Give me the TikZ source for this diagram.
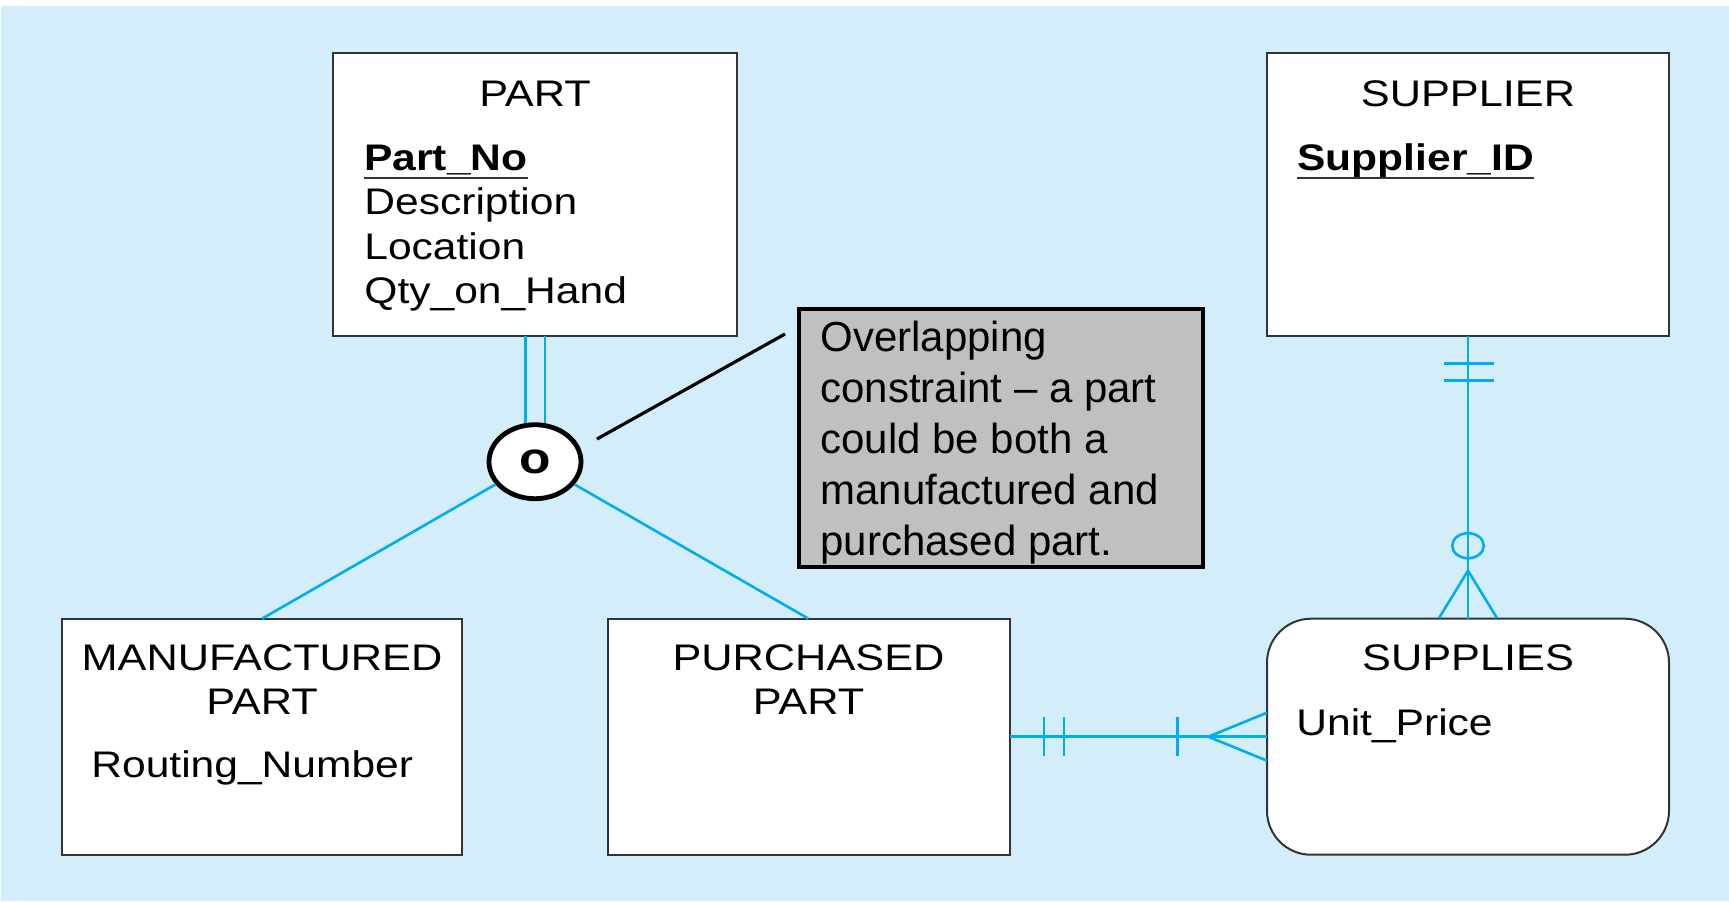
\documentclass[tikz,border=0pt]{standalone}
\usepackage{fontspec}
\setmainfont{Liberation Sans}
\newfontfamily\boxfont[FakeStretch=1.17]{Liberation Sans}
\newfontfamily\attrfont[FakeStretch=1.15]{Liberation Sans}
\usetikzlibrary{shapes.geometric}
\definecolor{bgblue}{RGB}{211,238,250}
\definecolor{linkblue}{RGB}{0,174,239}
\definecolor{edgegray}{RGB}{51,51,51}
\definecolor{notegray}{RGB}{192,192,192}
\tikzset{
  entity/.style={draw=edgegray, line width=1pt, fill=white, inner sep=0pt, outer sep=0pt},
  title/.style={inner sep=0pt, anchor=base, font=\boxfont\fontsize{18.5}{22}\selectfont},
  attr/.style={inner sep=0pt, anchor=base west, font=\attrfont\fontsize{18.5}{22}\selectfont},
  keyattr/.style={attr, font=\attrfont\bfseries\fontsize{18.5}{22}\selectfont},
  link/.style={draw=linkblue, line width=1.3pt},
  pointer/.style={draw=black, line width=1.6pt},
}
\begin{document}
\begin{tikzpicture}[x=0.5pt,y=-0.5pt]
\useasboundingbox (0,0) rectangle (1729,901);
\fill[white] (0,0) rectangle (1729,901);
\fill[bgblue] (1,6) rectangle (1729,901);

% entities
\node[entity, minimum width=202pt, minimum height=141.5pt] (part) at (535,194.5) {};
\node[entity, minimum width=201pt, minimum height=141.5pt] (supplier) at (1468,194.5) {};
\node[entity, minimum width=200pt, minimum height=118pt] (mfg) at (262,736.7) {};
\node[entity, minimum width=201pt, minimum height=118pt] (pur) at (808.5,736.7) {};
\node[entity, rounded corners=22pt, minimum width=201pt, minimum height=118pt] (supplies) at (1468,736.7) {};

% texts
\node[title] (parttitle) at (535,106) {PART};
\node[keyattr] (partno) at (364,170) {Part\_No};
\draw[edgegray, line width=0.8pt] ([yshift=-4pt]partno.base west) -- ([yshift=-4pt]partno.base east);
\node[attr] (desc) at (364,214.5) {Description};
\node[attr] (loc) at (364,259) {Location};
\node[attr] (qty) at (364,303.5) {Qty\_on\_Hand};

\node[title] (suppliertitle) at (1468,106) {SUPPLIER};
\node[keyattr] (supid) at (1297,170) {Supplier\_ID};
\draw[edgegray, line width=0.8pt] ([yshift=-4pt]supid.base west) -- ([yshift=-4pt]supid.base east);

\node[title] (mfgtitle) at (262,670) {MANUFACTURED};
\node[title] (mfgtitle2) at (262,714) {PART};
\node[attr] (routing) at (91,777) {Routing\_Number};

\node[title] (purtitle) at (808.5,670) {PURCHASED};
\node[title] (purtitle2) at (808.5,714) {PART};

\node[title] (suppliestitle) at (1468,670) {SUPPLIES};
\node[attr] (price) at (1296,735) {Unit\_Price};

% overlap circle
\node[ellipse, draw=black, line width=2.4pt, fill=white, minimum width=46pt, minimum height=37pt, inner sep=0pt] (circ) at (535,461.7) {};
\node[inner sep=0pt, font=\boxfont\bfseries\fontsize{22}{22}\selectfont] (olabel) at (535,462) {o};

% PART to circle: double line
\draw[link] ([xshift=-4.9pt]part.south) -- ([xshift=-4.9pt,yshift=-0.5pt]circ.north);
\draw[link] ([xshift=4.9pt]part.south) -- ([xshift=4.9pt,yshift=-0.5pt]circ.north);
% circle to subtypes
\draw[link] (circ) -- (mfg.north);
\draw[link] (circ) -- (pur.north);

% callout
\node[draw=black, line width=1.7pt, fill=notegray, minimum width=202pt, minimum height=129pt, inner sep=0pt] (note) at (1001,438) {};
\node[inner sep=0pt, anchor=north west, align=left, font=\fontsize{21}{25.4}\selectfont] (notetext) at (820,321)
  {Overlapping\\constraint -- a part\\could be both a\\manufactured and\\purchased part.};
\coordinate (pstart) at (597,439);
\coordinate (pend) at (785,334);
\draw[pointer] (pstart) -- (pend);

% SUPPLIER -- SUPPLIES
\draw[link] (supplier.south) -- (supplies.north);
\draw[link] (1443.5,363.7) -- (1493.5,363.7);
\draw[link] (1443.5,380.3) -- (1493.5,380.3);
\draw[link] (1468,545.7) ellipse [x radius=15.8, y radius=12.5];
\draw[link] (1439,618) -- (1468,570.7) -- (1497,618);

% PURCHASED PART -- SUPPLIES
\draw[link] (pur.east) -- (supplies.west);
\draw[link] (1044,717) -- (1044,756);
\draw[link] (1064,717) -- (1064,756);
\draw[link] (1177.3,717) -- (1177.3,756);
\draw[link] (1267,712.7) -- (1208.3,736.7) -- (1267,760.7);
\end{tikzpicture}
\end{document}
